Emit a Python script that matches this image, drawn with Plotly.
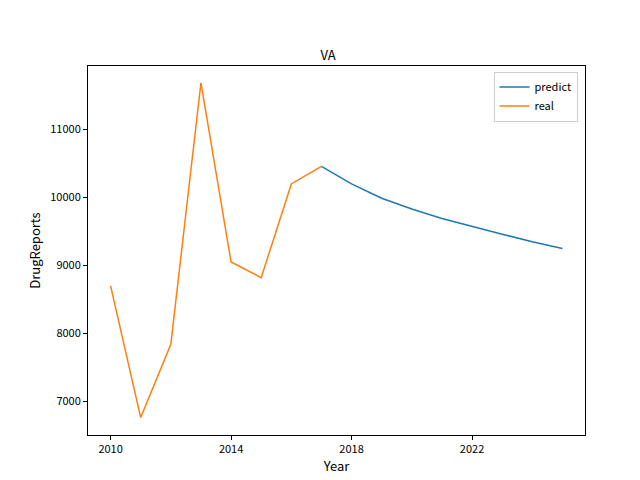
import plotly.graph_objects as go

# --- Data ---
real_years = [2010, 2011, 2012, 2013, 2014, 2015, 2016, 2017]
real_vals = [8700, 6760, 7840, 11690, 9050, 8820, 10200, 10460]

pred_years = [2017, 2018, 2019, 2020, 2021, 2022, 2023, 2024, 2025]
pred_vals = [10460, 10200, 9990, 9830, 9690, 9570, 9460, 9350, 9250]

x_ticks = [2010, 2014, 2018, 2022]
y_ticks = [7000, 8000, 9000, 10000, 11000]

fig = go.Figure()
fig.add_trace(go.Scatter(x=pred_years, y=pred_vals, mode="lines", name="predict",
                         line=dict(color="#1f77b4", width=1.5)))
fig.add_trace(go.Scatter(x=real_years, y=real_vals, mode="lines", name="real",
                         line=dict(color="#ff7f0e", width=1.5)))

axis_style = dict(showgrid=False, zeroline=False, showline=True, linecolor="black",
                  mirror=True, ticks="outside", ticklen=4, tickcolor="black",
                  automargin=False)

fig.update_layout(
    width=640, height=480,
    title=dict(text="VA", x=0.5, xanchor="center", y=0.91, font=dict(size=13)),
    font=dict(family="Noto Sans CJK SC, DejaVu Sans, sans-serif", size=11, color="black"),
    plot_bgcolor="white", paper_bgcolor="white",
    margin=dict(l=80, r=63, t=58, b=53, autoexpand=False),
    xaxis=dict(title=dict(text="Year", standoff=2), range=[2009.25, 2025.75],
               tickvals=x_ticks, tickformat="d", **axis_style),
    yaxis=dict(title=dict(text="DrugReports", standoff=6), range=[6503, 11937],
               tickvals=y_ticks, tickformat="d", **axis_style),
    legend=dict(x=0.985, y=0.985, xanchor="right", yanchor="top",
                bordercolor="#cccccc", borderwidth=1, bgcolor="white"),
    showlegend=True,
)

fig.write_html("out.html")
